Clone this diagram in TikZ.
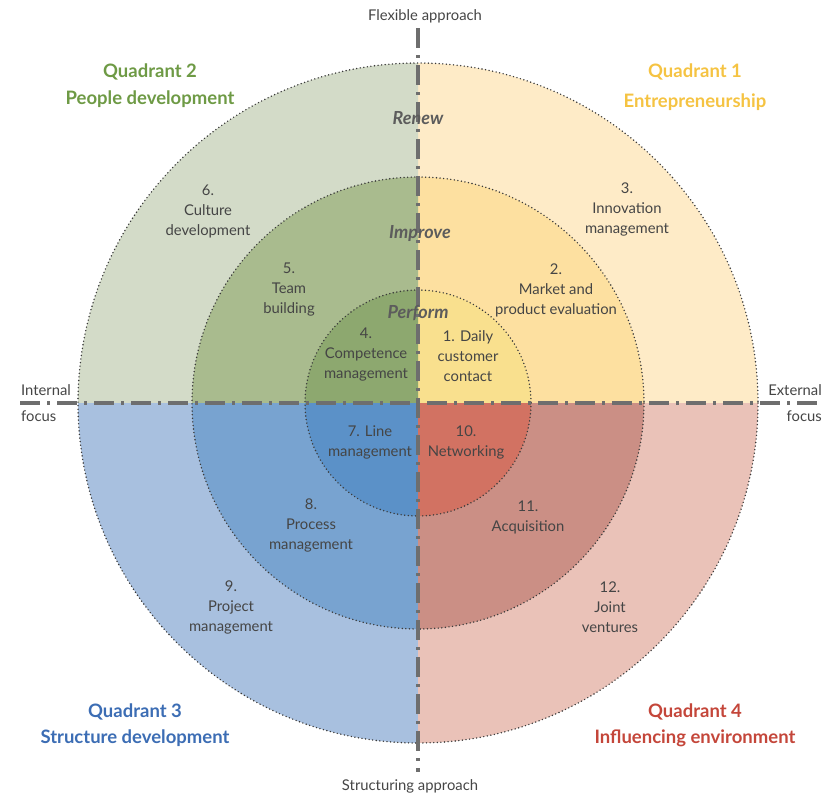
\documentclass[tikz,border=0pt]{standalone}
\usepackage{fontspec}
\setmainfont{Lato}
\begin{document}
\begin{tikzpicture}[x=1pt,y=-1pt,
  lbl/.style={align=center,font=\fontsize{14.8}{20}\selectfont,text=txt,inner sep=0pt},
  side/.style={align=left,font=\fontsize{14.8}{26}\selectfont,text=txt,inner sep=0pt},
  qt/.style={font=\fontsize{18.5}{20}\selectfont\bfseries,inner sep=0pt},
  ring/.style={font=\fontsize{18}{20}\selectfont\bfseries\itshape,text=ringc,inner sep=0pt},
  circ/.style={draw=dotc,line width=1.6pt,dash pattern=on 0pt off 3.6pt,line cap=round},
  axis/.style={draw=axc,line width=3.6pt,dash pattern=on 20pt off 7pt on 3pt off 7pt}
]
\definecolor{txt}{HTML}{454545}
\definecolor{ringc}{HTML}{5C5C5C}
\definecolor{dotc}{HTML}{3A3A3A}
\definecolor{axc}{HTML}{6E6E6E}
\definecolor{qAo}{HTML}{FEEBC7}\definecolor{qAm}{HTML}{FDE0A0}\definecolor{qAi}{HTML}{F9E08E}
\definecolor{qBo}{HTML}{D3DBC8}\definecolor{qBm}{HTML}{A9BB8E}\definecolor{qBi}{HTML}{8DA86F}
\definecolor{qCo}{HTML}{A8C0DF}\definecolor{qCm}{HTML}{78A3D0}\definecolor{qCi}{HTML}{5B91C8}
\definecolor{qDo}{HTML}{EAC2B8}\definecolor{qDm}{HTML}{CB8F85}\definecolor{qDi}{HTML}{D27262}
\definecolor{tA}{HTML}{F5C342}
\definecolor{tB}{HTML}{6E9A45}
\definecolor{tC}{HTML}{3C6DB4}
\definecolor{tD}{HTML}{C4463A}
\useasboundingbox (0,0) rectangle (836,795);
\coordinate (c) at (418,403);
% quadrant rings (y axis points down, so 270..360 is the upper right)
\foreach \r/\a/\b/\cc in {340/270/360/qAo,340/180/270/qBo,340/90/180/qCo,340/0/90/qDo,
                          226/270/360/qAm,226/180/270/qBm,226/90/180/qCm,226/0/90/qDm,
                          113/270/360/qAi,113/180/270/qBi,113/90/180/qCi,113/0/90/qDi}{
  \fill[\cc] (c) -- ++(\a:\r) arc[start angle=\a,end angle=\b,radius=\r] -- cycle;
}
\draw[circ] (c) circle[radius=340];
\draw[circ] (c) circle[radius=226];
\draw[circ] (c) circle[radius=113];
% axes
\coordinate (top) at (418,28);
\coordinate (bot) at (418,772);
\coordinate (lft) at (20,403);
\coordinate (rgt) at (818,403);
\draw[axis] (top) -- (bot);
\draw[axis] (lft) -- (rgt);
% axis labels
\node[lbl] (flex) at (425,16) {Flexible approach};
\node[lbl] (struct) at (410,786) {Structuring approach};
\node[side,anchor=west] (intl) at (21,403) {Internal\\focus};
\node[side,anchor=east,align=right] (extl) at (822,403) {External\\focus};
% quadrant titles
\node[qt,text=tB] (q2) at (150,72) {Quadrant 2};
\node[qt,text=tB] (q2s) at (150,99) {People development};
\node[qt,text=tA] (q1) at (695,72) {Quadrant 1};
\node[qt,text=tA] (q1s) at (695,102) {Entrepreneurship};
\node[qt,text=tC] (q3) at (135,712) {Quadrant 3};
\node[qt,text=tC] (q3s) at (135,738) {Structure development};
\node[qt,text=tD] (q4) at (695,712) {Quadrant 4};
\node[qt,text=tD] (q4s) at (695,738) {Influencing environment};
% ring labels
\node[ring] (renew) at (418,118) {Renew};
\node[ring] (improve) at (420,233) {Improve};
\node[ring] (perform) at (418,313) {Perform};
% items
\node[lbl] (i6) at (208,211) {6.\\Culture\\development};
\node[lbl] (i3) at (627,209) {3.\\Innovation\\management};
\node[lbl] (i5) at (289,290) {5.\\Team\\building};
\node[lbl] (i2) at (556,290) {2.\\Market and\\product evaluation};
\node[lbl] (i4) at (366,355) {4.\\Competence\\management};
\node[lbl] (i1) at (468,356) {1. Daily\\customer\\contact};
\node[lbl] (i7) at (370,442) {7. Line\\management};
\node[lbl] (i10) at (466,442) {10.\\Networking};
\node[lbl] (i8) at (311,525) {8.\\Process\\management};
\node[lbl] (i11) at (528,517) {11.\\Acquisition};
\node[lbl] (i9) at (231,607) {9.\\Project\\management};
\node[lbl] (i12) at (610,607) {12.\\Joint\\ventures};
\end{tikzpicture}
\end{document}
